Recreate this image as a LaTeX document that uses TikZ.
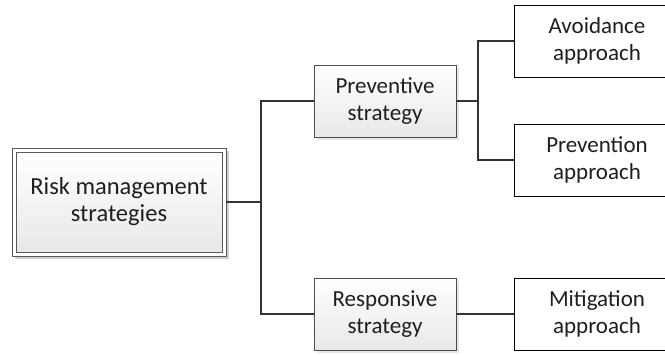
\documentclass[tikz,border=0pt]{standalone}
\usepackage{fontspec}
\setmainfont{Carlito}
\usetikzlibrary{shadows}
\begin{document}
\begin{tikzpicture}[x=1pt,y=-1pt,
  txt/.style={font=\fontsize{23}{27}\selectfont, align=center, text=black!88},
  gbox/.style={txt, draw=black!70, line width=0.9pt, top color=white, bottom color=black!9, minimum width=142pt, minimum height=72pt, inner sep=0pt,
    drop shadow={shadow xshift=2.5pt, shadow yshift=-2.5pt, fill=black!18}},
  wbox/.style={txt, draw=black, line width=0.9pt, fill=white, minimum width=166pt, minimum height=72pt, inner sep=0pt},
  conn/.style={draw=black!80, line width=1.3pt}]
\clip (0,0) rectangle (665,354);
\fill[white] (0,0) rectangle (665,354);
% root
\fill[black!18] (15,151) rectangle (229,259);
\node[draw=black!65, line width=0.8pt, fill=white, minimum width=214pt, minimum height=108pt, inner sep=0pt] (rootout) at (119,202) {};
\node[draw=black!65, line width=0.8pt, top color=white, bottom color=black!9,
  minimum width=206pt, minimum height=100pt, inner sep=0pt, txt, font=\fontsize{24.5}{27}\selectfont] (root) at (119,202) {Risk management\\strategies};
\node[gbox] (prev) at (385,101) {Preventive\\strategy};
\node[gbox] (resp) at (385,314) {Responsive\\strategy};
\node[wbox] (avoid) at (597,41) {Avoidance\\approach};
\node[wbox] (preven) at (597,160) {Prevention\\approach};
\node[wbox] (mitig) at (597,314) {Mitigation\\approach};
\coordinate (j1) at (261,202);
\coordinate (j2) at (478,101);
\draw[conn] (rootout.east) -- (j1);
\draw[conn] (j1) |- (prev.west);
\draw[conn] (j1) |- (resp.west);
\draw[conn] (prev.east) -- (j2);
\draw[conn] (j2) |- (avoid.west);
\draw[conn] (j2) |- (preven.west);
\draw[conn] (resp.east) -- (mitig.west);
\end{tikzpicture}
\end{document}
